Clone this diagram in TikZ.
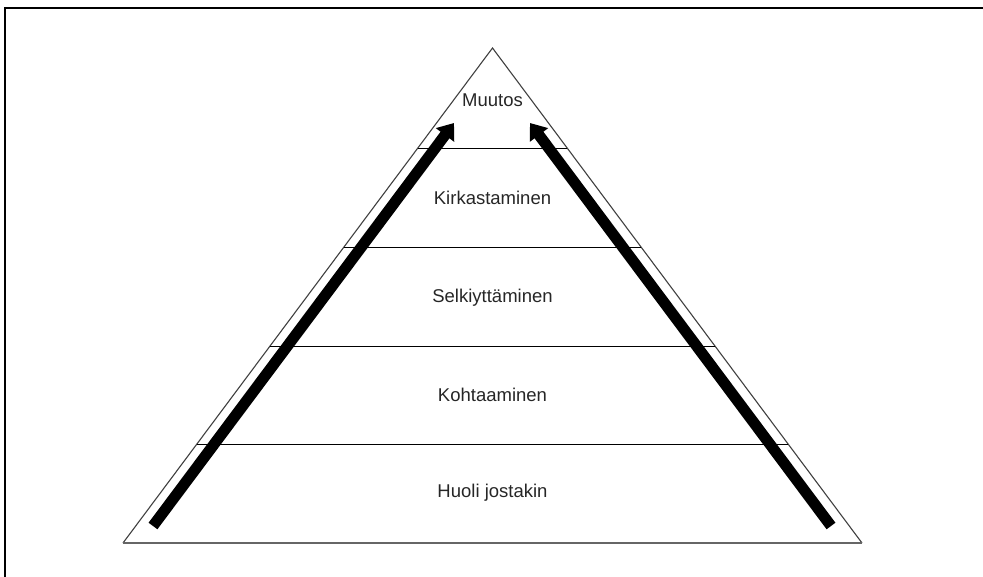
\documentclass[tikz,border=0pt]{standalone}
\usepackage{fontspec}
\setmainfont{Liberation Sans}
\usetikzlibrary{arrows.meta}
\begin{document}
\begin{tikzpicture}[x=1pt,y=-1pt,
  frame/.style={line width=2.5pt,black},
  pyr/.style={line width=1.1pt,black!75},
  divider/.style={line width=0.9pt,black},
  level/.style={font=\fontsize{18.5}{22}\selectfont,text=black!85,inner sep=0pt},
  bigarrow/.style={line width=11pt,black,-{Triangle[length=15pt,width=22pt]}}]
  \useasboundingbox (0,0) rectangle (983,577);
  % frame (top and left edges)
  \draw[frame] (983,8) -- (5,8) -- (5,577);
  % pyramid outline
  \coordinate (apex) at (492.5,48);
  \coordinate (bl) at (123,543);
  \coordinate (br) at (862,543);
  \draw[pyr] (bl) -- (apex) -- (br);
  \draw[line width=1.8pt,black!60] (bl) -- (br);
  % level dividers
  \foreach \yy/\nm in {148/a,247/b,346/c,444/d}{
    \pgfmathsetmacro{\hw}{(\yy-48)/495*369.5}
    \coordinate (\nm l) at (492.5-\hw,\yy);
    \coordinate (\nm r) at (492.5+\hw,\yy);
    \draw[divider] (\nm l) -- (\nm r);
  }
  % level labels
  \node[level] (muutos) at (492.5,100) {Muutos};
  \node[level] (kirk) at (492.5,198) {Kirkastaminen};
  \node[level] (selk) at (492.5,298) {Selkiyttäminen};
  \node[level] (koht) at (492.5,395) {Kohtaaminen};
  \node[level] (huoli) at (492.5,493) {Huoli jostakin};
  % rising arrows
  \coordinate (ls) at (153,526);
  \coordinate (le) at (454,123);
  \coordinate (rs) at (831,526);
  \coordinate (re) at (530,123);
  \draw[bigarrow] (ls) -- (le);
  \draw[bigarrow] (rs) -- (re);
\end{tikzpicture}
\end{document}
